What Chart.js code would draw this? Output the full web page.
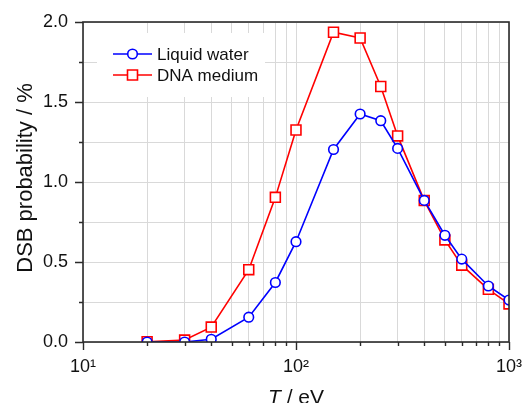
<!DOCTYPE html>
<html>
<head>
<meta charset="utf-8">
<script src="https://cdn.jsdelivr.net/npm/chart.js@4/dist/chart.umd.min.js"></script>
<style>
  html, body { margin: 0; padding: 0; background: #fff; }
  canvas { display: block; }
</style>
</head>
<body>
<canvas id="dsb" width="525" height="403"></canvas>
<script>
// T / eV
const energies = [20, 30, 40, 60, 80, 100, 150, 200, 250, 300, 400, 500, 600, 800, 1000];
// DSB probability / %
const liquidWater = [0, 0, 0.017, 0.155, 0.372, 0.627, 1.203, 1.425, 1.383, 1.21, 0.885, 0.667, 0.518, 0.35, 0.262];
const dnaMedium = [0.002, 0.012, 0.093, 0.452, 0.904, 1.325, 1.936, 1.9, 1.597, 1.288, 0.884, 0.638, 0.48, 0.329, 0.238];

const xTicks = [10, 20, 30, 40, 50, 60, 70, 80, 90, 100, 200, 300, 400, 500, 600, 700, 800, 900, 1000];
const xLabels = { 10: "10¹", 100: "10²", 1000: "10³" };
const yTicks = [0, 0.25, 0.5, 0.75, 1, 1.25, 1.5, 1.75, 2];

const FONT = "'Liberation Sans', Arial, sans-serif";
const AXIS = "#2a2a2a";

const toPoints = (ys) => energies.map((x, i) => ({ x, y: ys[i] }));

// frame, outward ticks, axis titles and the inside legend
const framePlugin = {
  id: "frame",
  beforeDatasetsDraw(chart) {
    const { ctx, chartArea: a } = chart;
    // legend background hides the grid behind it
    ctx.save();
    ctx.fillStyle = "#fff";
    ctx.fillRect(a.left + 14, a.top + 11, 168, 64);
    ctx.restore();
  },
  afterDatasetsDraw(chart) {
    const { ctx, chartArea: a, scales } = chart;
    ctx.save();
    ctx.strokeStyle = AXIS;
    ctx.lineWidth = 1.6;
    ctx.strokeRect(a.left, a.top, a.right - a.left, a.bottom - a.top);

    ctx.lineWidth = 1.4;
    ctx.beginPath();
    xTicks.forEach((v) => {
      const px = Math.round(scales.x.getPixelForValue(v)) + 0.5;
      const len = xLabels[v] ? 8 : 4;
      ctx.moveTo(px, a.bottom);
      ctx.lineTo(px, a.bottom + len);
    });
    yTicks.forEach((v) => {
      const py = Math.round(scales.y.getPixelForValue(v)) + 0.5;
      const len = (v * 2) % 1 === 0 ? 8 : 4;
      ctx.moveTo(a.left, py);
      ctx.lineTo(a.left - len, py);
    });
    ctx.stroke();

    // axis titles
    ctx.fillStyle = "#111";
    ctx.textBaseline = "alphabetic";
    const cx = (a.left + a.right) / 2;
    const rest = " / eV";
    ctx.font = "italic 21px " + FONT;
    const wT = ctx.measureText("T").width;
    ctx.font = "21px " + FONT;
    const wR = ctx.measureText(rest).width;
    const x0 = cx - (wT + wR) / 2;
    ctx.textAlign = "left";
    ctx.font = "italic 21px " + FONT;
    ctx.fillText("T", x0, 404);
    ctx.font = "21px " + FONT;
    ctx.fillText(rest, x0 + wT, 404);

    ctx.save();
    ctx.translate(32, (a.top + a.bottom) / 2 - 4);
    ctx.rotate(-Math.PI / 2);
    ctx.textAlign = "center";
    ctx.font = "22px " + FONT;
    ctx.fillText("DSB probability / %", 0, 0);
    ctx.restore();

    // legend
    ctx.font = "17px " + FONT;
    ctx.textAlign = "left";
    ctx.textBaseline = "middle";
    chart.data.datasets.forEach((ds, i) => {
      const y = a.top + 32 + i * 21;
      const xl = a.left + 30;
      ctx.strokeStyle = ds.borderColor;
      ctx.lineWidth = 1.6;
      ctx.beginPath();
      ctx.moveTo(xl, y);
      ctx.lineTo(xl + 39, y);
      ctx.stroke();
      ctx.fillStyle = "#fff";
      ctx.beginPath();
      if (ds.pointStyle === "circle") {
        ctx.arc(xl + 19.5, y, 4.8, 0, Math.PI * 2);
      } else {
        ctx.rect(xl + 14.5, y - 5, 10, 10);
      }
      ctx.fill();
      ctx.stroke();
      ctx.fillStyle = "#111";
      ctx.fillText(ds.label, xl + 44, y + 1);
    });
    ctx.restore();
  },
};

new Chart(document.getElementById("dsb"), {
  type: "line",
  data: {
    datasets: [
      {
        label: "Liquid water",
        data: toPoints(liquidWater),
        borderColor: "#0000ff",
        backgroundColor: "#fff",
        pointStyle: "circle",
        pointRadius: 4.8,
        pointHoverRadius: 4.8,
      },
      {
        label: "DNA medium",
        data: toPoints(dnaMedium),
        borderColor: "#ff0000",
        backgroundColor: "#fff",
        pointStyle: "rect",
        pointRadius: 7,
        pointHoverRadius: 7,
      },
    ],
  },
  options: {
    responsive: false,
    animation: false,
    layout: { padding: { left: 0, right: 16, top: 22, bottom: 0 } },
    elements: {
      line: { borderWidth: 1.6, tension: 0 },
      point: { borderWidth: 1.6 },
    },
    datasets: { line: { clip: 0 } },
    plugins: { legend: { display: false }, tooltip: { enabled: false } },
    scales: {
      x: {
        type: "logarithmic",
        min: 10,
        max: 1000,
        afterBuildTicks: (scale) => {
          scale.ticks = xTicks.map((v) => ({ value: v, major: !!xLabels[v] }));
        },
        afterFit: (scale) => {
          scale.height = 61;
          scale.paddingLeft = 0;
          scale.paddingRight = 0;
        },
        grid: { color: "#d9d9d9", lineWidth: 1, drawTicks: false },
        border: { display: false },
        ticks: {
          autoSkip: false,
          maxRotation: 0,
          padding: 14,
          color: "#111",
          font: { family: FONT, size: 18 },
          callback: (v) => xLabels[v] || "",
        },
      },
      y: {
        min: 0,
        max: 2,
        afterBuildTicks: (scale) => {
          scale.ticks = yTicks.map((v) => ({ value: v }));
        },
        afterFit: (scale) => {
          scale.width = 83;
          scale.paddingTop = 0;
          scale.paddingBottom = 0;
        },
        grid: { color: "#d9d9d9", lineWidth: 1, drawTicks: false },
        border: { display: false },
        ticks: {
          padding: 15,
          color: "#111",
          font: { family: FONT, size: 18 },
          callback: (v) => ((v * 2) % 1 === 0 ? v.toFixed(1) : ""),
        },
      },
    },
  },
  plugins: [framePlugin],
});
</script>
</body>
</html>
